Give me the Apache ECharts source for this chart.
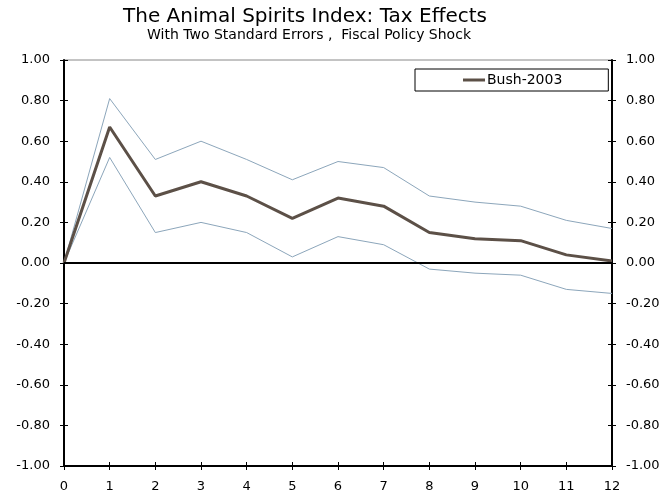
<!DOCTYPE html>
<html>
<head>
<meta charset="utf-8">
<script src="https://cdn.jsdelivr.net/npm/echarts@6/dist/echarts.min.js"></script>
<style>
  html, body { margin: 0; padding: 0; background: #fff; }
  #chart { width: 668px; height: 497px; }
</style>
</head>
<body>
<div id="chart"></div>
<script>
  // quarters after the shock
  var steps = [0, 1, 2, 3, 4, 5, 6, 7, 8, 9, 10, 11, 12];
  var bush2003 = [0, 0.67, 0.33, 0.40, 0.33, 0.22, 0.32, 0.28, 0.15, 0.12, 0.11, 0.04, 0.01];
  var upperBand = [0, 0.81, 0.51, 0.60, 0.51, 0.41, 0.50, 0.47, 0.33, 0.30, 0.28, 0.21, 0.17];
  var lowerBand = [0, 0.52, 0.15, 0.20, 0.15, 0.03, 0.13, 0.09, -0.03, -0.05, -0.06, -0.13, -0.15];

  var font = 'DejaVu Sans';

  function pairs(vals) {
    return steps.map(function (x, i) { return [x, vals[i]]; });
  }

  var chart = echarts.init(document.getElementById('chart'));

  // axis with ticks on the outside carries the labels, a second one adds the inside half of each tick
  function yAx(pos, inside) {
    return {
      type: 'value', position: pos, min: -1, max: 1, interval: 0.2,
      axisLine: { show: !inside, lineStyle: { color: '#000', width: 2 } },
      axisTick: { show: true, inside: inside, length: 4, lineStyle: { color: '#000' } },
      axisLabel: {
        show: !inside, color: '#000', fontFamily: font, fontSize: 13, margin: 14,
        formatter: function (v) { return v.toFixed(2); }
      },
      splitLine: { show: false }
    };
  }
  function xAx(inside) {
    return {
      type: 'value', position: 'bottom', min: 0, max: 12, interval: 1,
      axisLine: { show: !inside, onZero: false, lineStyle: { color: '#000', width: 2 } },
      axisTick: { show: true, inside: inside, length: 4, lineStyle: { color: '#000' } },
      axisLabel: { show: !inside, color: '#000', fontFamily: font, fontSize: 13, margin: 14 },
      splitLine: { show: false }
    };
  }

  var option = {
    animation: false,
    title: [
      {
        text: 'The Animal Spirits Index: Tax Effects',
        left: 300, top: 2, textAlign: 'center',
        textStyle: { fontFamily: font, fontSize: 20, fontWeight: 'normal', color: '#000' }
      },
      {
        text: 'With Two Standard Errors ,  Fiscal Policy Shock',
        left: 304, top: 23, textAlign: 'center',
        textStyle: { fontFamily: font, fontSize: 14, fontWeight: 'normal', color: '#000' }
      }
    ],
    legend: {
      data: ['Bush-2003'],
      left: 415, top: 69,
      padding: [4, 46, 4, 48],
      borderColor: '#000', borderWidth: 1, borderRadius: 0,
      backgroundColor: '#fff',
      icon: 'rect',
      itemWidth: 22, itemHeight: 3, itemGap: 5,
      textStyle: { fontFamily: font, fontSize: 14, color: '#000', padding: [0, 0, 0, -3] }
    },
    grid: {
      left: 64, right: 56, top: 60, bottom: 31,
      show: true, borderColor: '#888', borderWidth: 1, backgroundColor: '#fff'
    },
    xAxis: [xAx(false), xAx(true)],
    yAxis: [yAx('left', false), yAx('left', true), yAx('right', false), yAx('right', true)],
    series: [
      {
        name: 'Upper', type: 'line', data: pairs(upperBand), symbol: 'none',
        lineStyle: { color: '#8ca6bb', width: 1 }, z: 2
      },
      {
        name: 'Lower', type: 'line', data: pairs(lowerBand), symbol: 'none',
        lineStyle: { color: '#8ca6bb', width: 1 }, z: 2
      },
      {
        name: 'Bush-2003', type: 'line', data: pairs(bush2003), symbol: 'none',
        itemStyle: { color: '#5c5047' },
        lineStyle: { color: '#5c5047', width: 3 }, z: 3,
        markLine: {
          silent: true, symbol: 'none', label: { show: false },
          lineStyle: { color: '#000', width: 2, type: 'solid' },
          data: [{ yAxis: 0 }]
        }
      }
    ]
  };

  chart.setOption(option);
</script>
</body>
</html>
